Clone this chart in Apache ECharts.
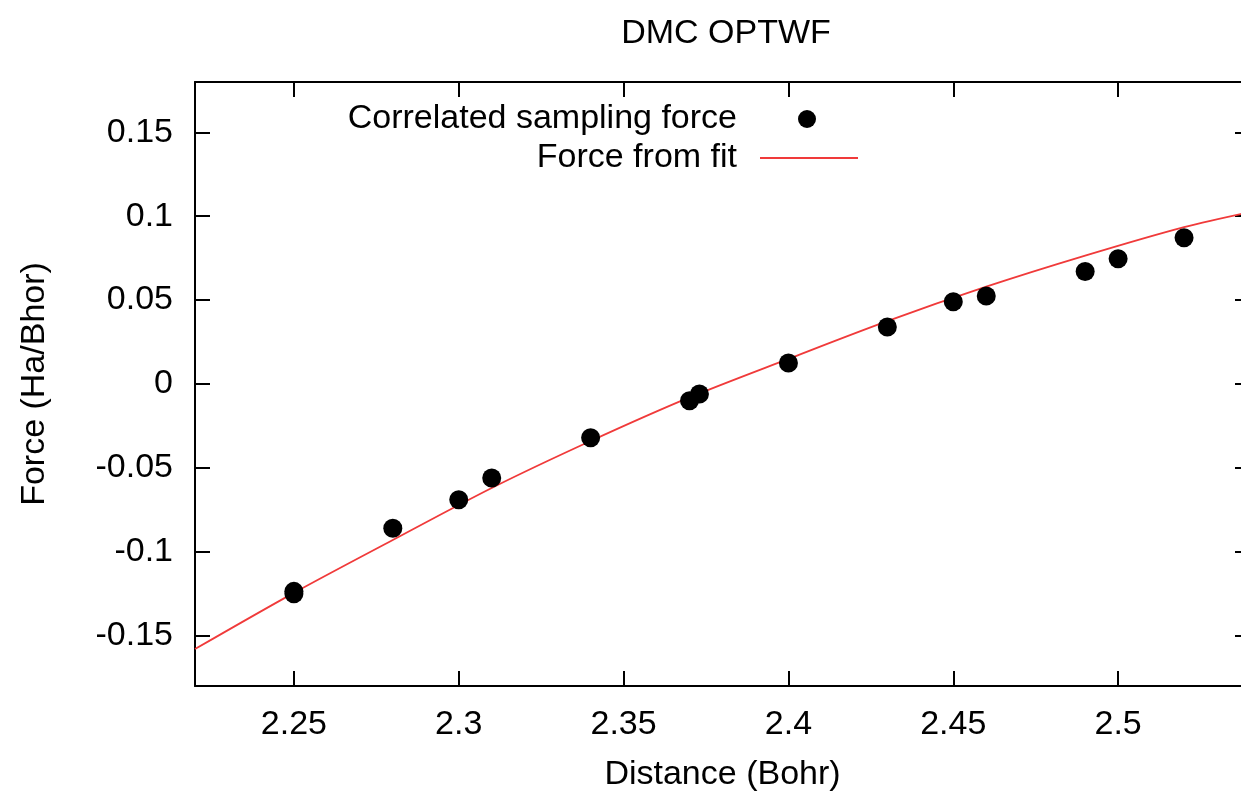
<!DOCTYPE html>
<html>
<head>
<meta charset="utf-8">
<script src="https://cdn.jsdelivr.net/npm/echarts@6/dist/echarts.min.js"></script>
<style>
html,body{margin:0;padding:0;background:#fff;overflow:hidden;}
#chart{width:1250px;height:803px;}
</style>
</head>
<body>
<div id="chart"></div>
<script>
// Correlated sampling force points
const distance = [2.25, 2.25, 2.28, 2.30, 2.31, 2.34, 2.37, 2.373, 2.40, 2.43, 2.45, 2.46, 2.49, 2.50, 2.52];
const force = [-0.1236, -0.1250, -0.086, -0.069, -0.056, -0.032, -0.010, -0.006, 0.0125, 0.034, 0.049, 0.0525, 0.067, 0.0747, 0.0872];
// Force from fit
const fitX = [2.22, 2.25, 2.28, 2.31, 2.34, 2.37, 2.40, 2.43, 2.46, 2.49, 2.52, 2.54];
const fitY = [-0.158, -0.1245, -0.093, -0.062, -0.034, -0.008, 0.015, 0.0375, 0.058, 0.0765, 0.0935, 0.1025];
// ticks
const xTicks = [2.25, 2.3, 2.35, 2.4, 2.45, 2.5];
const yTicks = [-0.15, -0.1, -0.05, 0, 0.05, 0.1, 0.15];

const FONT = 'Liberation Sans';
const FS = 34;
const chart = echarts.init(document.getElementById('chart'), null, {renderer: 'canvas'});

const axisLine = {show: true, onZero: false, lineStyle: {color: '#000', width: 2}};
const tick = (vals) => ({show: true, inside: true, length: 15, customValues: vals, lineStyle: {color: '#000', width: 2}});

const option = {
  backgroundColor: '#fff',
  animation: false,
  title: {
    text: 'DMC OPTWF',
    left: 721, top: 12, textAlign: 'center',
    textStyle: {fontFamily: FONT, fontSize: FS, fontWeight: 'normal', color: '#000'}
  },
  legend: [
    {
      data: ['Correlated sampling force'],
      orient: 'vertical', align: 'right',
      right: 434, top: 102, padding: 0,
      itemWidth: 18, itemHeight: 18, icon: 'circle',
      textStyle: {fontFamily: FONT, fontSize: FS, color: '#000', padding: [0, 56, 0, 0]}
    },
    {
      data: ['Force from fit'],
      orient: 'vertical', align: 'right',
      right: 392, top: 141, padding: 0,
      itemWidth: 98, itemHeight: 2, icon: 'rect',
      textStyle: {fontFamily: FONT, fontSize: FS, color: '#000', padding: [0, 18, 0, 0]}
    }
  ],
  grid: {left: 195, right: 0, top: 82, bottom: 117, containLabel: false},
  xAxis: [
    {
      type: 'value', position: 'bottom', min: 2.22, max: 2.54,
      axisLine: axisLine, axisTick: tick(xTicks), splitLine: {show: false},
      axisLabel: {customValues: xTicks, margin: 22, fontFamily: FONT, fontSize: FS, color: '#000'},
      name: 'Distance (Bohr)', nameLocation: 'middle', nameGap: 72,
      nameTextStyle: {fontFamily: FONT, fontSize: FS, color: '#000'}
    },
    {
      type: 'value', position: 'top', min: 2.22, max: 2.54,
      axisLine: axisLine, axisTick: tick(xTicks), axisLabel: {show: false}, splitLine: {show: false}
    }
  ],
  yAxis: [
    {
      type: 'value', position: 'left', min: -0.18, max: 0.18,
      axisLine: axisLine, axisTick: tick(yTicks), splitLine: {show: false},
      axisLabel: {customValues: yTicks, margin: 22, fontFamily: FONT, fontSize: FS, color: '#000'},
      name: 'Force (Ha/Bhor)', nameLocation: 'middle', nameGap: 143,
      nameTextStyle: {fontFamily: FONT, fontSize: FS, color: '#000'}
    },
    {
      type: 'value', position: 'right', min: -0.18, max: 0.18,
      axisLine: axisLine, axisTick: tick(yTicks), axisLabel: {show: false}, splitLine: {show: false}
    }
  ],
  series: [
    {
      name: 'Correlated sampling force', type: 'scatter',
      data: distance.map((d, i) => [d, force[i]]),
      symbol: 'circle', symbolSize: 19,
      itemStyle: {color: '#000', opacity: 1}, z: 3
    },
    {
      name: 'Force from fit', type: 'line',
      data: fitX.map((d, i) => [d, fitY[i]]),
      showSymbol: false, symbol: 'none', smooth: 0.3,
      lineStyle: {color: '#f03a3a', width: 1.8},
      itemStyle: {color: '#f03a3a'}, z: 2
    }
  ]
};
chart.setOption(option);
</script>
</body>
</html>
